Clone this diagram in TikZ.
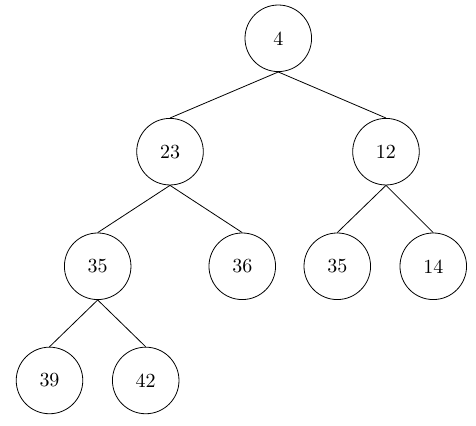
\documentclass[tikz,border=0pt]{standalone}
\usepackage{amsmath,amssymb}
\usetikzlibrary{positioning}

\begin{document}
\begin{tikzpicture}[every node/.style={font=\normalsize}, heapnode/.style={circle, draw, minimum size=11.7mm, inner sep=0pt}]
	\useasboundingbox (0,0) rectangle (8.366,-7.487);
	\node[heapnode] (n4) at (4.891,-0.673) {4};
	\node[heapnode] (n23) at (2.988,-2.666) {23};
	\node[heapnode] (n12) at (6.784,-2.666) {12};
	\node[heapnode] (n35a) at (1.717,-4.680) {35};
	\node[heapnode] (n36) at (4.258,-4.680) {36};
	\node[heapnode] (n35b) at (5.928,-4.680) {35};
	\node[heapnode] (n14) at (7.615,-4.680) {14};
	\node[heapnode] (n39) at (0.870,-6.687) {39};
	\node[heapnode] (n42) at (2.561,-6.687) {42};
	\draw (n4.south) -- (n23.north);
	\draw (n4.south) -- (n12.north);
	\draw (n23.south) -- (n35a.north);
	\draw (n23.south) -- (n36.north);
	\draw (n12.south) -- (n35b.north);
	\draw (n12.south) -- (n14.north);
	\draw (n35a.south) -- (n39.north);
	\draw (n35a.south) -- (n42.north);
\end{tikzpicture}
\end{document}
